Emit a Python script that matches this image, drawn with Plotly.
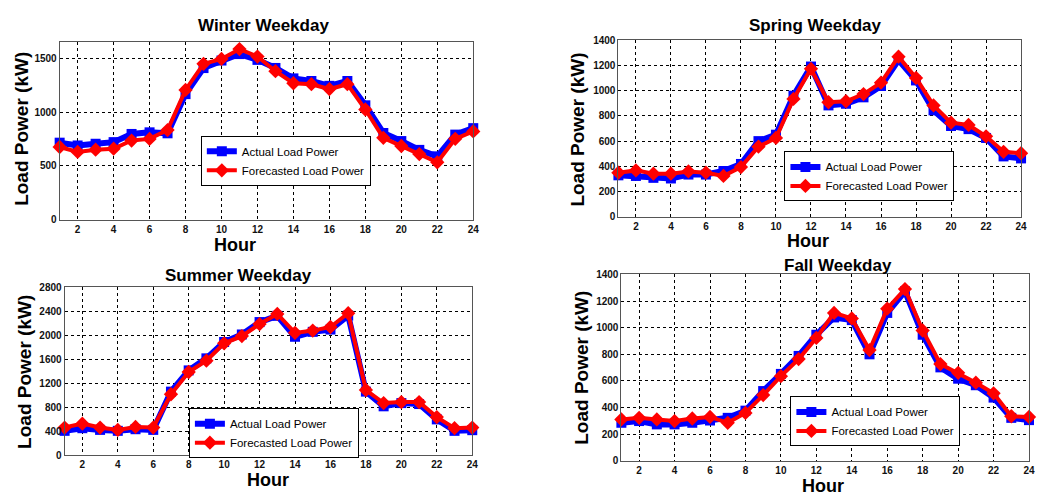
import plotly.graph_objects as go

hours = list(range(1, 25))

winter_actual = [716, 690, 706, 721, 797, 812, 803, 1167, 1409, 1479, 1539, 1485,
                 1410, 1313, 1289, 1244, 1289, 1063, 806, 731, 649, 589, 791, 851]
winter_forecast = [676, 630, 651, 660, 736, 751, 833, 1206, 1448, 1494, 1585, 1516,
                   1380, 1268, 1259, 1214, 1259, 1024, 761, 685, 610, 534, 752, 821]

spring_actual = [329, 324, 309, 304, 335, 335, 363, 419, 600, 651, 960, 1191,
                 883, 896, 947, 1037, 1243, 1081, 844, 720, 695, 625, 479, 463]
spring_forecast = [350, 368, 342, 342, 360, 350, 324, 394, 556, 625, 934, 1173,
                   908, 916, 973, 1063, 1269, 1101, 883, 746, 728, 638, 515, 504]

summer_actual = [403, 447, 419, 403, 430, 419, 1057, 1411, 1612, 1885, 2010, 2217,
                 2321, 1972, 2054, 2092, 2326, 1057, 812, 866, 850, 594, 403, 414]
summer_forecast = [458, 523, 458, 419, 468, 458, 1013, 1384, 1574, 1863, 1983, 2184,
                   2353, 2037, 2075, 2135, 2364, 1084, 866, 883, 883, 632, 447, 458]

fall_actual = [286, 299, 274, 274, 286, 303, 323, 377, 524, 653, 788, 947,
               1077, 1057, 800, 1111, 1273, 947, 702, 617, 568, 475, 323, 306]
fall_forecast = [311, 323, 311, 299, 318, 330, 286, 360, 494, 636, 764, 923,
                 1111, 1070, 832, 1143, 1290, 979, 727, 661, 587, 507, 335, 330]

titles = ["Winter Weekday", "Spring Weekday", "Summer Weekday", "Fall Weekday"]
x_ticks = list(range(2, 25, 2))
y_ticks = [
    [0, 500, 1000, 1500],
    [0, 200, 400, 600, 800, 1000, 1200, 1400],
    [0, 400, 800, 1200, 1600, 2000, 2400, 2800],
    [0, 200, 400, 600, 800, 1000, 1200, 1400],
]
y_ranges = [[0, 1650], [0, 1400], [0, 2800], [0, 1400]]
series = [
    (winter_actual, winter_forecast),
    (spring_actual, spring_forecast),
    (summer_actual, summer_forecast),
    (fall_actual, fall_forecast),
]

W, H = 1038, 502
# plot boxes in pixels: left, right, top, bottom
boxes = [(60, 476, 37, 219), (622, 1027, 35, 216), (65, 475, 288, 460), (625, 1035, 275, 466)]
title_pos = [(265, 20), (820, 20), (240, 276), (843, 266)]
ytitle_pos = [(22, 126), (581, 127), (24, 375), (585, 371)]
xtitle_pos = [(236, 245), (813, 241), (270, 486), (828, 492)]
legend_pos = [(202, 133), (789, 149), (190, 412), (795, 400)]

fig = go.Figure()
legends = ["legend", "legend2", "legend3", "legend4"]
layout = dict(
    width=W, height=H, margin=dict(l=0, r=0, t=0, b=0),
    paper_bgcolor="white", plot_bgcolor="white", showlegend=True,
    font=dict(family="Arial", color="black"),
)
annotations = []
for i in range(4):
    ax = "" if i == 0 else str(i + 1)
    act, fc = series[i]
    fig.add_trace(go.Scatter(
        x=hours, y=act, mode="lines+markers", name="Actual Load Power",
        line=dict(color="#0000FF", width=6),
        marker=dict(symbol="square", size=10, color="#0000FF"),
        xaxis="x" + ax, yaxis="y" + ax, legend=legends[i], cliponaxis=False,
    ))
    fig.add_trace(go.Scatter(
        x=hours, y=fc, mode="lines+markers", name="Forecasted Load Power",
        line=dict(color="#FF0000", width=4),
        marker=dict(symbol="diamond", size=11, color="#FF0000"),
        xaxis="x" + ax, yaxis="y" + ax, legend=legends[i], cliponaxis=False,
    ))
    l, r, t, b = boxes[i]
    axis_common = dict(
        showline=True, mirror=True, linecolor="#555555", linewidth=1,
        showgrid=True, gridcolor="black", griddash="dot", gridwidth=1,
        zeroline=False, ticks="", tickfont=dict(size=10, weight="bold", color="#111111"),
    )
    layout["xaxis" + ax] = dict(
        domain=[l / W, r / W], range=[1, 24], tickvals=x_ticks,
        anchor="y" + ax, **axis_common,
    )
    layout["yaxis" + ax] = dict(
        domain=[1 - b / H, 1 - t / H], range=y_ranges[i], tickvals=y_ticks[i],
        anchor="x" + ax, **axis_common,
    )
    lx, ly = legend_pos[i]
    layout[legends[i]] = dict(
        x=lx / W, y=1 - ly / H, xanchor="left", yanchor="top",
        bgcolor="white", bordercolor="black", borderwidth=1,
        font=dict(size=11.5, family="Arial"), tracegroupgap=0,
        itemwidth=30,
    )
    tx, ty = title_pos[i]
    annotations.append(dict(text=titles[i], x=tx / W, y=1 - ty / H, xref="paper", yref="paper",
                            xanchor="center", yanchor="middle",
                            showarrow=False, font=dict(size=17, weight="bold")))
    yx, yy = ytitle_pos[i]
    annotations.append(dict(text="Load Power (kW)", x=yx / W, y=1 - yy / H, xref="paper", yref="paper",
                            xanchor="center", yanchor="middle",
                            showarrow=False, textangle=-90, font=dict(size=19, weight="bold")))
    hx, hy = xtitle_pos[i]
    annotations.append(dict(text="Hour", x=hx / W, y=1 - hy / H, xref="paper", yref="paper",
                            xanchor="center", yanchor="middle",
                            showarrow=False, font=dict(size=18, weight="bold")))

layout["annotations"] = annotations
fig.update_layout(**layout)
fig.write_html("out.html", config={"displayModeBar": False},
               post_script="document.body.style.margin='0';document.body.style.overflow='hidden';")
